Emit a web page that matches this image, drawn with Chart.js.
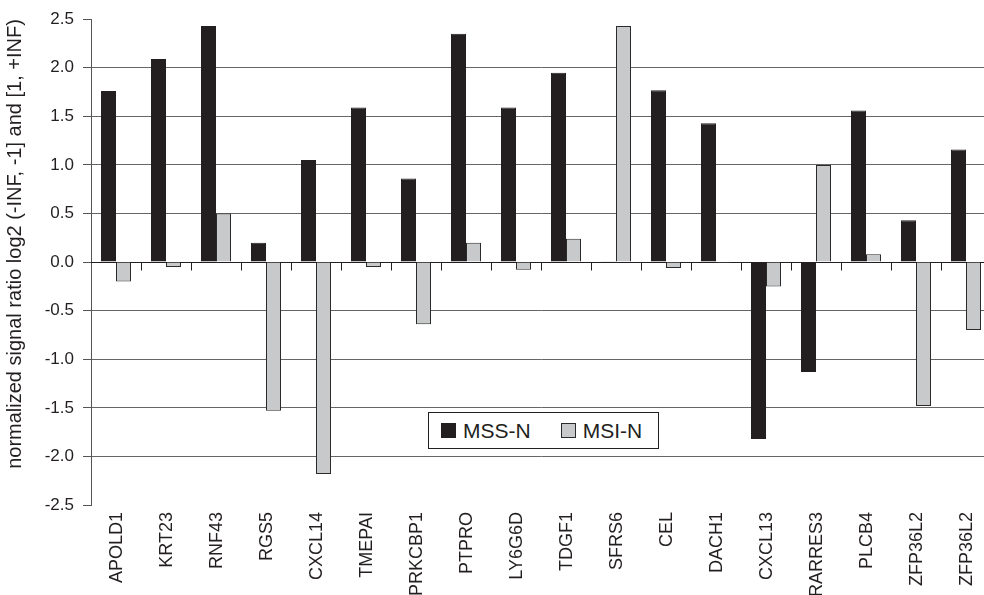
<!DOCTYPE html>
<html>
<head>
<meta charset="utf-8">
<script src="https://cdn.jsdelivr.net/npm/chart.js@4/dist/chart.umd.min.js"></script>
<style>
  html, body { margin: 0; padding: 0; background: #fff; overflow: hidden; width: 984px; height: 595px; }
  #wrap { position: relative; width: 1000px; height: 595px; }
  #chart { display: block; }
  #legend {
    position: absolute; left: 428px; top: 412px; width: 231px; height: 37px;
    box-sizing: border-box; border: 1px solid #231f20; background: #fff;
    display: flex; align-items: center; padding-left: 12px;
    font-family: "Liberation Sans", Arial, sans-serif; font-size: 21px; color: #231f20;
  }
  #legend .item { display: flex; align-items: center; }
  #legend .item + .item { margin-left: 30px; }
  #legend .sw { width: 15px; height: 15px; box-sizing: border-box; margin-right: 7px; }
</style>
</head>
<body>
<div id="wrap">
  <canvas id="chart" width="1000" height="595"></canvas>
  <div id="legend"></div>
</div>
<script>
// Gene categories along the x axis
const categories = ['APOLD1', 'KRT23', 'RNF43', 'RGS5', 'CXCL14', 'TMEPAI', 'PRKCBP1', 'PTPRO',
  'LY6G6D', 'TDGF1', 'SFRS6', 'CEL', 'DACH1', 'CXCL13', 'RARRES3', 'PLCB4', 'ZFP36L2', 'ZFP36L2'];

// Series names
const seriesNames = ['MSS-N', 'MSI-N'];

// Normalized log2 signal ratios per gene
const mssN = [1.76, 2.09, 2.43, 0.20, 1.05, 1.59, 0.86, 2.35, 1.59, 1.95, 0.01, 1.77, 1.43, -1.82, -1.13, 1.56, 0.43, 1.16];
const msiN = [-0.20, -0.05, 0.50, -1.53, -2.18, -0.05, -0.64, 0.20, -0.08, 0.24, 2.43, -0.06, -0.01, -0.25, 1.00, 0.08, -1.48, -0.70];

// Y axis tick values
const yTickValues = [-2.5, -2.0, -1.5, -1.0, -0.5, 0.0, 0.5, 1.0, 1.5, 2.0, 2.5];

const yTitle = 'normalized signal ratio log2 (-INF, -1] and [1, +INF)';

const FONT = '"Liberation Sans", Arial, Helvetica, sans-serif';
const INK = '#231f20';
const seriesFill = ['#231f20', '#c8c9cb'];
const seriesEdge = ['#231f20', '#2b2b2b'];

// Zero line across the plot with short separators between categories
const zeroAxis = {
  id: 'zeroAxis',
  beforeDatasetsDraw(chart) {
    const { ctx, chartArea, scales: { x, y } } = chart;
    const y0 = Math.round(y.getPixelForValue(0)) + 0.5;
    ctx.save();
    ctx.strokeStyle = INK;
    ctx.lineWidth = 1;
    ctx.beginPath();
    ctx.moveTo(chartArea.left, y0);
    ctx.lineTo(chartArea.right, y0);
    for (let i = 1; i < x.ticks.length; i++) {
      const bx = Math.round((x.getPixelForTick(i - 1) + x.getPixelForTick(i)) / 2) + 0.5;
      ctx.moveTo(bx, y0);
      ctx.lineTo(bx, y0 + 8);
    }
    ctx.stroke();
    ctx.restore();
  }
};

const chart = new Chart(document.getElementById('chart'), {
  type: 'bar',
  data: {
    labels: categories,
    datasets: [
      { label: seriesNames[0], data: mssN, backgroundColor: seriesFill[0], borderColor: seriesEdge[0], borderWidth: 1 },
      { label: seriesNames[1], data: msiN, backgroundColor: seriesFill[1], borderColor: seriesEdge[1], borderWidth: 1 }
    ]
  },
  plugins: [zeroAxis],
  options: {
    responsive: false,
    animation: false,
    layout: { padding: { left: 0, top: 15, right: 9, bottom: 0 } },
    datasets: { bar: { categoryPercentage: 0.6, barPercentage: 1.0 } },
    plugins: { legend: { display: false }, tooltip: { enabled: false } },
    scales: {
      x: {
        type: 'category',
        position: 'bottom',
        offset: true,
        grid: { display: false, drawTicks: false },
        border: { display: false },
        ticks: {
          autoSkip: false, maxRotation: 90, minRotation: 90, padding: 7, labelOffset: 1,
          color: INK, font: { family: FONT, size: 18 }
        },
        afterFit(s) { s.height = 90; }
      },
      y: {
        min: -2.5,
        max: 2.5,
        afterBuildTicks(s) { s.ticks = yTickValues.map(v => ({ value: v })); },
        ticks: {
          padding: 9,
          color: INK,
          font: { family: FONT, size: 17 },
          callback: v => Number(v).toFixed(1)
        },
        grid: {
          color: c => (c.tick && (c.tick.value === 0 || Math.abs(c.tick.value) === 2.5)) ? 'rgba(0,0,0,0)' : '#666666',
          lineWidth: 1,
          drawTicks: true,
          tickLength: 8,
          tickColor: '#555555'
        },
        border: { display: true, color: '#555555', width: 1 },
        title: {
          display: true,
          text: yTitle,
          align: 'end',
          color: INK,
          font: { family: FONT, size: 20 },
          padding: { top: 3, bottom: 0 }
        },
        afterFit(s) { s.width = 91; }
      }
    }
  }
});

// Legend built from the chart's datasets
const legendEl = document.getElementById('legend');
chart.data.datasets.forEach(ds => {
  const item = document.createElement('div');
  item.className = 'item';
  const sw = document.createElement('span');
  sw.className = 'sw';
  sw.style.background = ds.backgroundColor;
  sw.style.border = '1px solid ' + ds.borderColor;
  const txt = document.createElement('span');
  txt.textContent = ds.label;
  item.appendChild(sw);
  item.appendChild(txt);
  legendEl.appendChild(item);
});
</script>
</body>
</html>
